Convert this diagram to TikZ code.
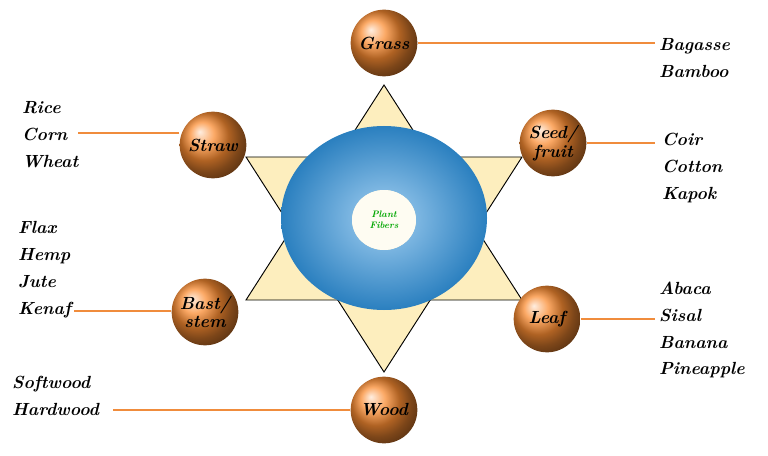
\documentclass[tikz,border=0pt]{standalone}
\usepackage{tikz}
\usetikzlibrary{positioning}
\definecolor{fiberorange}{RGB}{250,140,50}
\definecolor{lineorange}{RGB}{240,140,60}
\definecolor{starfill}{RGB}{253,238,190}
\definecolor{donutblue}{RGB}{50,150,225}
\tikzset{
  partnode/.style={circle, minimum size=2cm, inner sep=0pt, ball color=fiberorange,
    font=\fontsize{15}{16}\selectfont\bfseries\itshape, align=center},
  listnode/.style={font=\fontsize{15}{23}\selectfont\bfseries\itshape, align=left},
  leadline/.style={lineorange, line width=1.2pt}
}
\begin{document}
\begin{tikzpicture}[x=0.03cm, y=-0.03cm]
        \useasboundingbox (0,0) rectangle (768,456);
        % Star
        \fill[starfill] (384,85) -- (522,300) -- (246,300) -- cycle;
        \fill[starfill] (384,372) -- (522,157) -- (246,157) -- cycle;
        \draw[thick] (384,85) -- (522,300) -- (246,300) -- cycle;
        \draw[thick] (384,372) -- (522,157) -- (246,157) -- cycle;

        % Ring
        \shade[even odd rule, inner color=donutblue!45, outer color=donutblue!85!black]
            (384,218) ellipse (103 and 92) (384,220) ellipse (32 and 30);
        \fill[white!80!starfill] (384,220) ellipse (32 and 30);
        \node[font=\footnotesize\bfseries\itshape, text=green!65!black, align=center] (core) at (384,220) {Plant\\Fibers};

        % Fiber classes
        \node[partnode] (grass) at (384,43) {Grass};
        \node[partnode] (straw) at (213,145) {Straw};
        \node[partnode] (seed) at (553,143) {Seed/\\fruit};
        \node[partnode] (bast) at (205,312) {Bast/\\stem};
        \node[partnode] (leaf) at (547,319) {Leaf};
        \node[partnode] (wood) at (384,410) {Wood};

        % Examples
        \node[listnode, anchor=west] (grasslist) at (655,58) {Bagasse\\Bamboo};
        \node[listnode, anchor=west] (strawlist) at (18,135) {Rice\\Corn\\Wheat};
        \node[listnode, anchor=west] (seedlist) at (658,168) {Coir\\Cotton\\Kapok};
        \node[listnode, anchor=west] (bastlist) at (14,270) {Flax\\Hemp\\Jute\\Kenaf};
        \node[listnode, anchor=west] (leaflist) at (655,330) {Abaca\\Sisal\\Banana\\Pineapple};
        \node[listnode, anchor=west] (woodlist) at (8,396) {Softwood\\Hardwood};

        % Leaders
        \coordinate (grassend) at (655,43);
        \coordinate (strawend) at (78,133);
        \coordinate (seedend) at (655,143);
        \coordinate (bastend) at (74,311);
        \coordinate (leafend) at (655,319);
        \coordinate (woodend) at (113,410);
        \draw[leadline] (grass.east) -- (grassend);
        \draw[leadline] (straw.west |- strawend) -- (strawend);
        \draw[leadline] (seed.east |- seedend) -- (seedend);
        \draw[leadline] (bast.west |- bastend) -- (bastend);
        \draw[leadline] (leaf.east |- leafend) -- (leafend);
        \draw[leadline] (wood.west) -- (woodend);
    \end{tikzpicture}
\end{document}
